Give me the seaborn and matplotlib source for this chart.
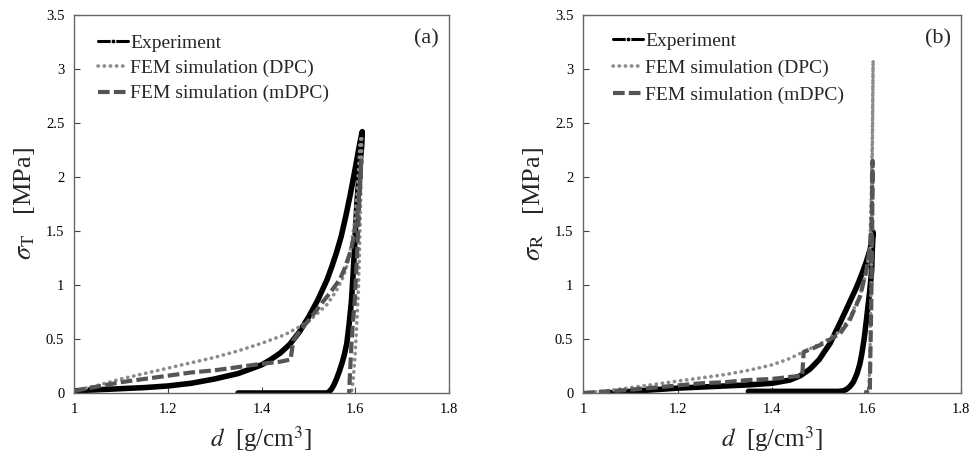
import numpy as np
import pandas as pd
import seaborn as sns
import matplotlib.pyplot as plt

# --- panel (a): sigma_T ---
exp_a_d = [1.00, 1.05, 1.10, 1.15, 1.20, 1.25, 1.30, 1.35, 1.40, 1.42, 1.44, 1.46, 1.48, 1.50, 1.52,
           1.54, 1.55, 1.56, 1.57, 1.58, 1.59, 1.60, 1.605, 1.61, 1.615,
           1.614, 1.612, 1.61, 1.607, 1.604, 1.601, 1.598, 1.595, 1.592, 1.587, 1.582, 1.577, 1.572,
           1.566, 1.56, 1.555, 1.55, 1.545, 1.54, 1.35]
exp_a_s = [0.02, 0.03, 0.04, 0.05, 0.065, 0.09, 0.13, 0.18, 0.26, 0.31, 0.37, 0.45, 0.56, 0.70, 0.86,
           1.05, 1.17, 1.30, 1.45, 1.64, 1.85, 2.08, 2.20, 2.32, 2.42,
           2.30, 2.20, 2.10, 1.95, 1.79, 1.55, 1.30, 1.07, 0.86, 0.64, 0.46, 0.36, 0.28,
           0.20, 0.13, 0.08, 0.04, 0.015, 0.0, 0.0]

dpc_a_d = [1.00, 1.05, 1.10, 1.15, 1.20, 1.25, 1.30, 1.35, 1.40, 1.45, 1.50, 1.54, 1.56, 1.575, 1.585,
           1.592, 1.599, 1.604, 1.607, 1.61, 1.612, 1.614,
           1.613, 1.611, 1.609, 1.607, 1.604, 1.601, 1.598, 1.595, 1.592]
dpc_a_s = [0.02, 0.07, 0.13, 0.18, 0.23, 0.28, 0.33, 0.39, 0.46, 0.54, 0.66, 0.82, 0.95, 1.08, 1.22,
           1.38, 1.60, 1.85, 2.06, 2.30, 2.36, 2.38,
           2.10, 1.70, 1.30, 1.00, 0.70, 0.45, 0.25, 0.10, 0.0]

mdpc_a_d = [1.00, 1.05, 1.10, 1.15, 1.20, 1.25, 1.30, 1.35, 1.40, 1.44, 1.462, 1.468, 1.48, 1.49, 1.50,
            1.518, 1.53, 1.545, 1.555, 1.567, 1.578, 1.589, 1.592, 1.597, 1.603, 1.607, 1.61, 1.613,
            1.611, 1.609, 1.604, 1.599, 1.595, 1.592, 1.589, 1.587]
mdpc_a_s = [0.02, 0.06, 0.10, 0.13, 0.16, 0.19, 0.21, 0.24, 0.27, 0.29, 0.31, 0.49, 0.56, 0.62, 0.67,
            0.77, 0.84, 0.92, 0.98, 1.05, 1.16, 1.30, 1.35, 1.45, 1.60, 1.75, 1.95, 2.15,
            1.95, 1.80, 1.30, 0.86, 0.65, 0.46, 0.20, 0.0]

# --- panel (b): sigma_R ---
exp_b_d = [1.05, 1.10, 1.15, 1.20, 1.25, 1.30, 1.35, 1.40, 1.438, 1.46, 1.48, 1.50, 1.509, 1.523, 1.544,
           1.56, 1.579, 1.59, 1.60, 1.607, 1.611, 1.614,
           1.612, 1.611, 1.607, 1.603, 1.600, 1.595, 1.59, 1.586, 1.58, 1.572, 1.565, 1.558, 1.551,
           1.54, 1.35]
exp_b_s = [0.0, 0.015, 0.03, 0.045, 0.055, 0.065, 0.075, 0.09, 0.12, 0.16, 0.22, 0.31, 0.37, 0.46, 0.65,
           0.80, 0.98, 1.10, 1.22, 1.32, 1.40, 1.49,
           1.30, 1.14, 0.95, 0.80, 0.68, 0.50, 0.36, 0.27, 0.18, 0.10, 0.06, 0.035, 0.02,
           0.015, 0.015]

dpc_b_d = [1.00, 1.05, 1.10, 1.15, 1.20, 1.25, 1.30, 1.35, 1.40, 1.438, 1.466, 1.49, 1.516, 1.544, 1.565,
           1.586, 1.600, 1.607, 1.611, 1.613, 1.614,
           1.612, 1.610, 1.607, 1.605]
dpc_b_s = [0.0, 0.02, 0.05, 0.08, 0.11, 0.14, 0.17, 0.21, 0.26, 0.32, 0.38, 0.43, 0.49, 0.57, 0.70,
           0.90, 1.12, 1.35, 2.00, 2.60, 3.08,
           2.00, 1.00, 0.30, 0.0]

mdpc_b_d = [1.00, 1.05, 1.10, 1.15, 1.20, 1.25, 1.30, 1.35, 1.40, 1.44, 1.464, 1.467, 1.49, 1.509, 1.544,
            1.565, 1.586, 1.600, 1.607, 1.611, 1.612, 1.613,
            1.612, 1.610, 1.608, 1.607, 1.595]
mdpc_b_s = [0.0, 0.015, 0.03, 0.05, 0.07, 0.09, 0.10, 0.12, 0.13, 0.15, 0.16, 0.38, 0.42, 0.46, 0.55,
            0.68, 0.89, 1.14, 1.35, 1.60, 1.90, 2.15,
            1.50, 0.80, 0.30, 0.0, 0.01]

labels = ['Experiment', 'FEM simulation (DPC)', 'FEM simulation (mDPC)']
x_ticks = [1, 1.2, 1.4, 1.6, 1.8]
x_tick_labels = ['1', '1.2', '1.4', '1.6', '1.8']
y_ticks = [0, 0.5, 1, 1.5, 2, 2.5, 3, 3.5]
y_tick_labels = ['0', '0.5', '1', '1.5', '2', '2.5', '3', '3.5']

sns.set_style('white')
plt.rcParams['font.family'] = ['Liberation Serif', 'DejaVu Serif']
plt.rcParams['mathtext.fontset'] = 'stix'

fig = plt.figure(figsize=(9.71, 4.66), dpi=100)
ax_a = fig.add_axes([74 / 971, 73 / 466, 375 / 971, 378 / 466])
ax_b = fig.add_axes([583 / 971, 73 / 466, 378 / 971, 378 / 466])


def draw_panel(ax, series, ylabel, tag, leg_x, leg_y, spacing):
    styles = [
        dict(color='black', lw=4.0, ls='-', solid_joinstyle='round'),
        dict(color='#8c8c8c', lw=2.6, ls=(0, (0.1, 1.6)), dash_capstyle='round'),
        dict(color='#555555', lw=3.0, ls=(0, (2.8, 1.0))),
    ]
    for (d, s), lab, st in zip(series, labels, styles):
        df = pd.DataFrame({'d': d, 's': s})
        sns.lineplot(data=df, x='d', y='s', sort=False, estimator=None, ax=ax, label=lab, **st)

    ax.set_xlim(1, 1.8)
    ax.set_ylim(0, 3.5)
    ax.set_xticks(x_ticks)
    ax.set_xticklabels(x_tick_labels)
    ax.set_yticks(y_ticks)
    ax.set_yticklabels(y_tick_labels)
    ax.tick_params(bottom=True, left=True, direction='in', length=4, width=0.8, colors='#444444',
                   labelcolor='black', labelsize=10.5, pad=7)
    for sp in ax.spines.values():
        sp.set_visible(True)
        sp.set_color('#666666')
        sp.set_linewidth(1.0)
    ax.set_xlabel(r'$d$  [g/cm$^3$]', fontsize=18, labelpad=6)
    ax.set_ylabel(ylabel, fontsize=19, labelpad=6)
    ax.text(0.94, 0.937, tag, transform=ax.transAxes, fontsize=16, ha='center', va='center')

    leg = ax.legend(loc='upper left', bbox_to_anchor=(leg_x, leg_y), frameon=False, fontsize=14,
                    handlelength=1.55, handletextpad=0.12, labelspacing=spacing, borderaxespad=0,
                    borderpad=0)
    h = leg.legend_handles[0]
    h.set_marker('o')
    h.set_markersize(3.5)
    h.set_linewidth(2.2)
    leg.legend_handles[1].set_linewidth(2.6)
    leg.legend_handles[2].set_linewidth(3.0)


draw_panel(ax_a,
           [(exp_a_d, exp_a_s), (dpc_a_d, dpc_a_s), (mdpc_a_d, mdpc_a_s)],
           r'$\sigma_{\mathrm{T}}$   [MPa]', '(a)', 0.064, 0.948, 0.38)
draw_panel(ax_b,
           [(exp_b_d, exp_b_s), (dpc_b_d, dpc_b_s), (mdpc_b_d, mdpc_b_s)],
           r'$\sigma_{\mathrm{R}}$   [MPa]', '(b)', 0.079, 0.954, 0.48)

fig.savefig('out.png', dpi=100)
